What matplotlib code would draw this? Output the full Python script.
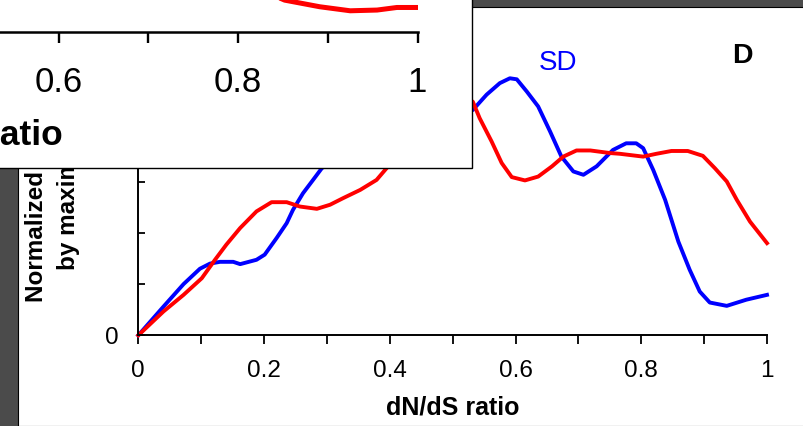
import numpy as np
import matplotlib
matplotlib.use("Agg")
import matplotlib.pyplot as plt
from matplotlib.patches import Rectangle

plt.rcParams['font.family'] = ['Liberation Sans', 'DejaVu Sans']

# panel D: dN/dS ratio vs normalized value
sd_x = [0, 0.040, 0.072, 0.098, 0.114, 0.130, 0.151, 0.162, 0.188, 0.201, 0.220,
        0.236, 0.246, 0.262, 0.278, 0.292, 0.35, 0.42, 0.48, 0.532, 0.554, 0.575,
        0.591, 0.602, 0.618, 0.636, 0.655, 0.673, 0.692, 0.708, 0.729, 0.755,
        0.776, 0.792, 0.803, 0.819, 0.838, 0.859, 0.877, 0.893, 0.909, 0.936,
        0.967, 1.0]
sd_y = [0, 0.112, 0.20, 0.26, 0.28, 0.287, 0.287, 0.278, 0.295, 0.315, 0.38,
        0.438, 0.49, 0.555, 0.607, 0.653, 0.74, 0.80, 0.84, 0.88, 0.94, 0.985,
        1.004, 1.0, 0.952, 0.894, 0.796, 0.698, 0.64, 0.627, 0.66, 0.724,
        0.75, 0.75, 0.731, 0.646, 0.529, 0.366, 0.256, 0.171, 0.128, 0.115,
        0.139, 0.158]

red_x = [0, 0.040, 0.072, 0.101, 0.122, 0.140, 0.162, 0.188, 0.212, 0.236, 0.257,
         0.284, 0.305, 0.326, 0.353, 0.379, 0.395, 0.45, 0.50, 0.532, 0.543,
         0.562, 0.578, 0.594, 0.615, 0.636, 0.658, 0.676, 0.697, 0.719, 0.750,
         0.766, 0.803, 0.824, 0.848, 0.874, 0.898, 0.917, 0.936, 0.952, 0.973, 1.0]
red_y = [0, 0.093, 0.158, 0.223, 0.295, 0.354, 0.419, 0.484, 0.52, 0.52, 0.503,
         0.494, 0.51, 0.536, 0.568, 0.607, 0.653, 0.78, 0.90, 0.913, 0.848,
         0.757, 0.673, 0.618, 0.605, 0.62, 0.66, 0.698, 0.722, 0.722, 0.712,
         0.709, 0.698, 0.709, 0.72, 0.72, 0.701, 0.653, 0.601, 0.529, 0.444, 0.36]

# the panel lying on top (only its lower edge shows)
over_x = [0.80, 0.852, 0.891, 0.925, 0.955, 0.977, 1.0]
over_y = [0.14, 0.086, 0.068, 0.057, 0.059, 0.066, 0.066]

x_ticks = np.round(np.arange(0, 1.01, 0.1), 1)
x_labels = ['0', '', '0.2', '', '0.4', '', '0.6', '', '0.8', '', '1']
y_ticks = np.round(np.arange(0, 1.21, 0.2), 1)
y_labels = ['0', '', '', '', '', '1', '']

W, H = 804, 426
fig = plt.figure(figsize=(W / 100, H / 100), dpi=100, facecolor='#4b4b4b')


def px(x0, y0, x1, y1):
    # pixel box (top-left origin) -> figure fraction rect
    return [x0 / W, (H - y1) / H, (x1 - x0) / W, (y1 - y0) / H]


# white sheet of panel D
fig.add_artist(Rectangle((17.5 / W, 0), 1, (H - 6.7) / H, transform=fig.transFigure,
                         facecolor='white', edgecolor='black', lw=0.8, zorder=0.5))

ax = fig.add_axes(px(138.3, 335.3 - 1.2 * 256, 767, 335.3), zorder=1)
ax.set_facecolor('none')
ax.plot(sd_x, sd_y, color='#0000ff', lw=2.8, solid_joinstyle='round', clip_on=False)
ax.plot(red_x, red_y, color='#ff0000', lw=2.8, solid_joinstyle='round', clip_on=False)
ax.set_xlim(0, 1)
ax.set_ylim(0, 1.2)
for s in ['top', 'right']:
    ax.spines[s].set_visible(False)
for s in ['left', 'bottom']:
    ax.spines[s].set_linewidth(1.4)
ax.set_xticks(x_ticks)
ax.set_xticklabels(x_labels)
ax.set_yticks(y_ticks)
ax.set_yticklabels(y_labels)
ax.tick_params(axis='x', direction='out', length=6.5, width=1.3, labelsize=17.5, pad=11)
ax.tick_params(axis='y', direction='in', length=5, width=1.3, labelsize=17.5, pad=14)
ax.set_xlabel('dN/dS ratio', fontsize=18, fontweight='bold', labelpad=10)
ax.text(557.6 / W, (H - 63) / H, 'SD', transform=fig.transFigure, color='#0000ff',
        fontsize=20, ha='center', va='center')
ax.text(742 / W, (H - 56) / H, 'D', transform=fig.transFigure, fontsize=20.5,
        fontweight='bold', ha='center', va='center')

# two-line y label, partly hidden by the panel on top
fig.text(37 / W, (H - 302) / H, 'Normalized frequency', rotation=90, ha='center',
         va='bottom', fontsize=17.5, fontweight='bold', zorder=1.5)
fig.text(69 / W, (H - 270) / H, 'by maximum value', rotation=90, ha='center',
         va='bottom', fontsize=17.5, fontweight='bold', zorder=1.5)

# the overlapping panel in the upper left
fig.add_artist(Rectangle((-20 / W, (H - 167.7) / H), (472.5 + 20) / W, 0.5,
                         transform=fig.transFigure, facecolor='white',
                         edgecolor='black', lw=1.0, zorder=2))
ax2 = fig.add_axes(px(417.5 - 897.5, 31.7 - 367, 417.5, 31.7), zorder=3)
ax2.set_facecolor('none')
ax2.plot(over_x, over_y, color='#ff0000', lw=3.6, solid_joinstyle='round')
ax2.set_xlim(0, 1)
ax2.set_ylim(0, 1)
for s in ['top', 'right', 'left']:
    ax2.spines[s].set_visible(False)
ax2.spines['bottom'].set_linewidth(1.8)
ax2.set_yticks([])
ax2.set_xticks(x_ticks)
ax2.set_xticklabels(x_labels)
ax2.tick_params(axis='x', direction='out', length=8, width=1.7, labelsize=25, pad=17)
ax2.set_xlabel('dN/dS ratio', fontsize=25.5, fontweight='bold', labelpad=14)

fig.savefig('out.png', dpi=100, facecolor=fig.get_facecolor())
